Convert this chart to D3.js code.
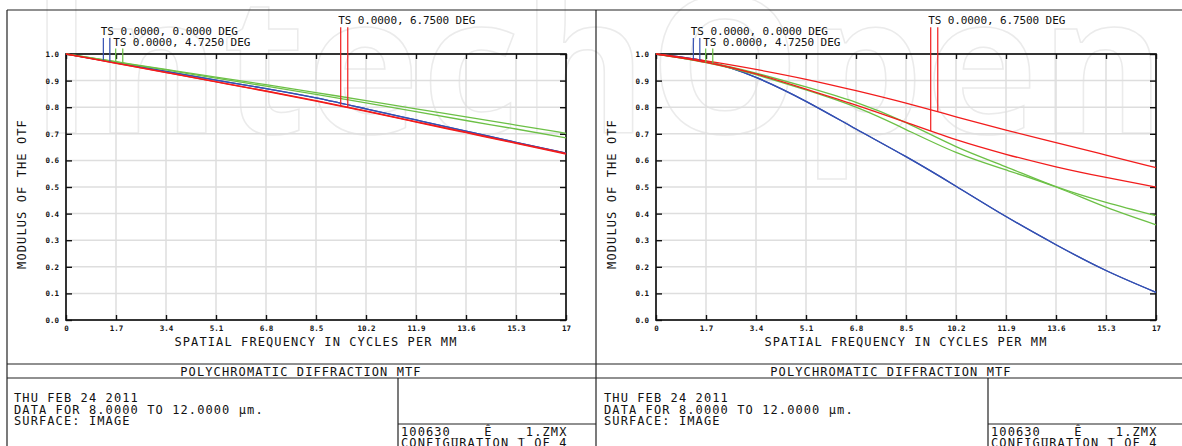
<!DOCTYPE html>
<html>
<head>
<meta charset="utf-8">
<script src="https://cdn.jsdelivr.net/npm/d3@7"></script>
<style>
  body { margin: 0; background: #fff; }
  svg { display: block; }
  .zf { font-family: "DejaVu Sans Mono", "Liberation Mono", monospace; fill: #111; }
  .big { font-size: 12px; letter-spacing: 1.1px; }
  .tick text { font-family: "DejaVu Sans Mono", monospace; font-size: 7.5px; font-weight: bold; fill: #111; }
</style>
</head>
<body>
<script>
// spatial frequency samples (cycles/mm) and tick labels
const freqs = [0, 1.7, 3.4, 5.1, 6.8, 8.5, 10.2, 11.9, 13.6, 15.3, 17];
const xTickLabels = ["0", "1.7", "3.4", "5.1", "6.8", "8.5", "10.2", "11.9", "13.6", "15.3", "17"];
const yTicks = [0, 0.1, 0.2, 0.3, 0.4, 0.5, 0.6, 0.7, 0.8, 0.9, 1.0];
const yTickLabels = ["0.0", "0.1", "0.2", "0.3", "0.4", "0.5", "0.6", "0.7", "0.8", "0.9", "1.0"];

const fieldLabels = ["TS 0.0000, 0.0000 DEG", "TS 0.0000, 4.7250 DEG", "TS 0.0000, 6.7500 DEG"];
const markerFreqs = [[1.27, 1.49], [1.69, 1.93], [9.34, 9.58]];

// left plot
const leftBlueT  = [1, 0.968, 0.935, 0.902, 0.870, 0.835, 0.794, 0.752, 0.710, 0.668, 0.627];
const leftBlueS  = [1, 0.968, 0.935, 0.902, 0.870, 0.835, 0.794, 0.752, 0.710, 0.668, 0.627];
const leftGreenT = [1, 0.970, 0.940, 0.909, 0.879, 0.848, 0.816, 0.783, 0.750, 0.718, 0.685];
const leftGreenS = [1, 0.971, 0.942, 0.913, 0.885, 0.855, 0.825, 0.794, 0.764, 0.733, 0.702];
const leftRedT   = [1, 0.965, 0.930, 0.895, 0.860, 0.823, 0.784, 0.744, 0.704, 0.664, 0.624];
const leftRedS   = [1, 0.966, 0.931, 0.896, 0.861, 0.825, 0.786, 0.746, 0.706, 0.666, 0.626];

// right plot
const rightBlueT  = [1, 0.972, 0.912, 0.822, 0.718, 0.614, 0.503, 0.389, 0.283, 0.186, 0.104];
const rightBlueS  = [1, 0.972, 0.912, 0.822, 0.718, 0.614, 0.503, 0.389, 0.283, 0.186, 0.104];
const rightGreenT = [1, 0.968, 0.922, 0.865, 0.800, 0.716, 0.630, 0.564, 0.500, 0.424, 0.358];
const rightGreenS = [1, 0.970, 0.928, 0.876, 0.818, 0.742, 0.652, 0.576, 0.501, 0.442, 0.392];
const rightRedT   = [1, 0.969, 0.925, 0.868, 0.808, 0.743, 0.678, 0.623, 0.576, 0.536, 0.500];
const rightRedS   = [1, 0.974, 0.942, 0.905, 0.862, 0.815, 0.764, 0.714, 0.667, 0.620, 0.573];

const colors = ["#3450b2", "#6cc046", "#f21c1c"];

const W = 1182, H = 446;
const svg = d3.select("body").append("svg").attr("width", W).attr("height", H);

// faint publisher watermark behind everything
svg.append("text")
    .attr("x", 30).attr("y", 133)
    .attr("textLength", 1135).attr("lengthAdjust", "spacing")
    .style("font-family", "'Open Sans', sans-serif")
    .style("font-weight", 700).style("font-size", "190px")
    .attr("fill", "none").attr("stroke", "#ebebeb").attr("stroke-width", 1.5)
    .text("IntechOpen");

// outer frame
const frame = svg.append("g").attr("stroke", "#222").attr("stroke-width", 1.2);
frame.append("line").attr("x1", 7).attr("y1", 10).attr("x2", W).attr("y2", 10);
frame.append("line").attr("x1", 7).attr("y1", 10).attr("x2", 7).attr("y2", H);
frame.append("line").attr("x1", 596).attr("y1", 10).attr("x2", 596).attr("y2", H);
frame.append("line").attr("x1", 7).attr("y1", 364).attr("x2", W).attr("y2", 364);
frame.append("line").attr("x1", 7).attr("y1", 378).attr("x2", W).attr("y2", 378);

function drawPanel(off, groups) {
    let g = svg.append("g").attr("transform", "translate(" + off + ",0)");

    let x = d3.scaleLinear().domain([0, 17]).range([66, 566]);
    let y = d3.scaleLinear().domain([0, 1]).range([320, 54]);

    // grid
    g.append("g").selectAll("line").data(freqs.slice(1, -1)).enter().append("line")
        .attr("x1", d => x(d)).attr("x2", d => x(d))
        .attr("y1", y(0)).attr("y2", y(1))
        .attr("stroke", "#dedede").attr("stroke-width", 1.5);
    g.append("g").selectAll("line").data(yTicks.slice(1, -1)).enter().append("line")
        .attr("y1", d => y(d)).attr("y2", d => y(d))
        .attr("x1", x(0)).attr("x2", x(17))
        .attr("stroke", "#dedede").attr("stroke-width", 1.5);

    // axes with inward ticks
    let bottom = g.append("g").attr("transform", "translate(0," + y(0) + ")")
        .call(d3.axisBottom(x).tickValues(freqs).tickFormat((d, i) => xTickLabels[i])
            .tickSize(-5).tickPadding(5.5));
    let top = g.append("g").attr("transform", "translate(0," + y(1) + ")")
        .call(d3.axisTop(x).tickValues(freqs).tickFormat("").tickSize(-5));
    let left = g.append("g").attr("transform", "translate(" + x(0) + ",0)")
        .call(d3.axisLeft(y).tickValues(yTicks).tickFormat((d, i) => yTickLabels[i])
            .tickSize(-6).tickPadding(7));
    let right = g.append("g").attr("transform", "translate(" + x(17) + ",0)")
        .call(d3.axisRight(y).tickValues(yTicks).tickFormat("").tickSize(-6));
    [bottom, top, left, right].forEach(a => {
        a.select(".domain").remove();
        a.selectAll(".tick line").attr("stroke", "#111").attr("stroke-width", 1.4);
    });

    g.append("rect")
        .attr("x", x(0)).attr("y", y(1))
        .attr("width", x(17) - x(0)).attr("height", y(0) - y(1))
        .attr("fill", "none").attr("stroke", "#111").attr("stroke-width", 1.7);

    // curves
    let line = d3.line()
        .x((d, i) => x(freqs[i]))
        .y(d => y(d))
        .curve(d3.curveNatural);

    groups.forEach((grp, k) => {
        [grp.t, grp.s].forEach(vals => {
            g.append("path").datum(vals)
                .attr("d", line)
                .attr("fill", "none")
                .attr("stroke", colors[k])
                .attr("stroke-width", 1.3);
        });
    });

    // field labels and markers
    let labelBase = [35, 45.5, 24.3];
    groups.forEach((grp, k) => {
        let mf = markerFreqs[k];
        g.append("text").attr("class", "zf")
            .attr("x", x(mf[0]) - 2.5).attr("y", labelBase[k])
            .style("font-size", "11px").style("letter-spacing", "-0.1px")
            .text(fieldLabels[k]);
        [grp.t, grp.s].forEach((vals, j) => {
            let interp = d3.scaleLinear().domain(freqs).range(vals);
            g.append("line")
                .attr("x1", x(mf[j])).attr("x2", x(mf[j]))
                .attr("y1", labelBase[k] + 3).attr("y2", y(interp(mf[j])))
                .attr("stroke", colors[k]).attr("stroke-width", 1.2);
        });
    });

    // axis titles
    g.append("text").attr("class", "zf big")
        .attr("transform", "translate(26,194) rotate(-90)")
        .attr("text-anchor", "middle")
        .text("MODULUS OF THE OTF");
    g.append("text").attr("class", "zf big")
        .attr("x", 316).attr("y", 346).attr("text-anchor", "middle")
        .text("SPATIAL FREQUENCY IN CYCLES PER MM");
    g.append("text").attr("class", "zf big")
        .attr("x", 301).attr("y", 375.5).attr("text-anchor", "middle")
        .text("POLYCHROMATIC DIFFRACTION MTF");

    // info block
    ["THU FEB 24 2011", "DATA FOR 8.0000 TO 12.0000 \u03bcm.", "SURFACE: IMAGE"].forEach((t, i) => {
        g.append("text").attr("class", "zf big")
            .attr("x", 14).attr("y", 402 + i * 11.5).text(t);
    });
    g.append("line").attr("x1", 398).attr("x2", 398).attr("y1", 378).attr("y2", H)
        .attr("stroke", "#222").attr("stroke-width", 1.2);
    g.append("line").attr("x1", 398).attr("x2", 596).attr("y1", 424).attr("y2", 424)
        .attr("stroke", "#222").attr("stroke-width", 1.2);
    ["100630_   \u00ca   _1.ZMX", "CONFIGURATION 1 OF 4"].forEach((t, i) => {
        g.append("text").attr("class", "zf big")
            .attr("x", 401).attr("y", 435.5 + i * 11.5)
            .style("white-space", "pre").text(t);
    });
}

drawPanel(0, [
    {t: leftBlueT, s: leftBlueS},
    {t: leftGreenT, s: leftGreenS},
    {t: leftRedT, s: leftRedS}
]);
drawPanel(590, [
    {t: rightBlueT, s: rightBlueS},
    {t: rightGreenT, s: rightGreenS},
    {t: rightRedT, s: rightRedS}
]);
</script>
</body>
</html>
